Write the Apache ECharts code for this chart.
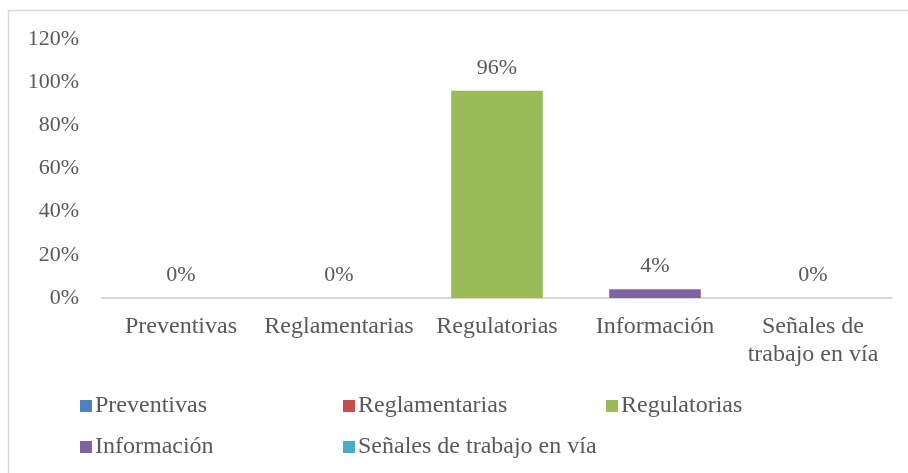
<!DOCTYPE html>
<html>
<head>
<meta charset="utf-8">
<script src="https://cdn.jsdelivr.net/npm/echarts@6/dist/echarts.min.js"></script>
<style>
  html, body { margin: 0; padding: 0; background: #fff; }
  #chart { width: 908px; height: 473px; }
</style>
</head>
<body>
<div id="chart"></div>
<script>
const categories = ['Preventivas', 'Reglamentarias', 'Regulatorias', 'Información', 'Señales de trabajo en vía']
const axisLabels = ['Preventivas', 'Reglamentarias', 'Regulatorias', 'Información', 'Señales de\ntrabajo en vía']
const values = [0, 0, 96, 4, 0]
const colors = ['#4f81bd', '#c0504d', '#9bbb59', '#8064a2', '#4bacc6']
const yTicks = { min: 0, max: 120, interval: 20 }

const font = "'Liberation Serif', 'Times New Roman', serif"
const textColor = '#595959'

// legend laid out like the Excel grid: 3 columns, 2 rows
const legendSpots = [[80, 393], [343, 393], [606, 393], [80, 434], [343, 434]]

let chart = echarts.init(document.getElementById('chart'))

let series = categories.map((name, i) => ({
    type: 'bar',
    name: name,
    stack: 'all',
    barWidth: '58%',
    itemStyle: { color: colors[i] },
    label: {
        show: true,
        position: 'top',
        distance: 12,
        formatter: '{c}%',
        fontFamily: font,
        fontSize: 22,
        color: textColor
    },
    data: values.map((v, j) => (j === i ? v : '-'))
}))

let legends = categories.map((name, i) => ({
    data: [name],
    left: legendSpots[i][0],
    top: legendSpots[i][1],
    icon: 'rect',
    itemWidth: 12,
    itemHeight: 12,
    itemGap: 0,
    padding: 0,
    selectedMode: false,
    textStyle: { fontFamily: font, fontSize: 24, color: textColor, padding: [0, 0, 0, -2], lineHeight: 26 }
}))

let option = {
    animation: false,
    backgroundColor: '#fff',
    graphic: [{
        type: 'rect',
        shape: { x: 8.5, y: 10.5, width: 1000, height: 1000 },
        style: { fill: 'none', stroke: '#d9d9d9', lineWidth: 1.5 }
    }],
    grid: { left: 102, right: 16, top: 39, bottom: 175 },
    legend: legends,
    xAxis: {
        type: 'category',
        data: axisLabels,
        axisLine: { lineStyle: { color: '#d9d9d9', width: 2 } },
        axisTick: { show: false },
        axisLabel: {
            interval: 0,
            margin: 15,
            fontFamily: font,
            fontSize: 24,
            lineHeight: 28,
            color: textColor
        }
    },
    yAxis: {
        type: 'value',
        min: yTicks.min,
        max: yTicks.max,
        interval: yTicks.interval,
        splitLine: { show: false },
        axisLine: { show: false },
        axisTick: { show: false },
        axisLabel: {
            margin: 23,
            formatter: '{value}%',
            fontFamily: font,
            fontSize: 22,
            color: textColor
        }
    },
    series: series
}

chart.setOption(option)
</script>
</body>
</html>
